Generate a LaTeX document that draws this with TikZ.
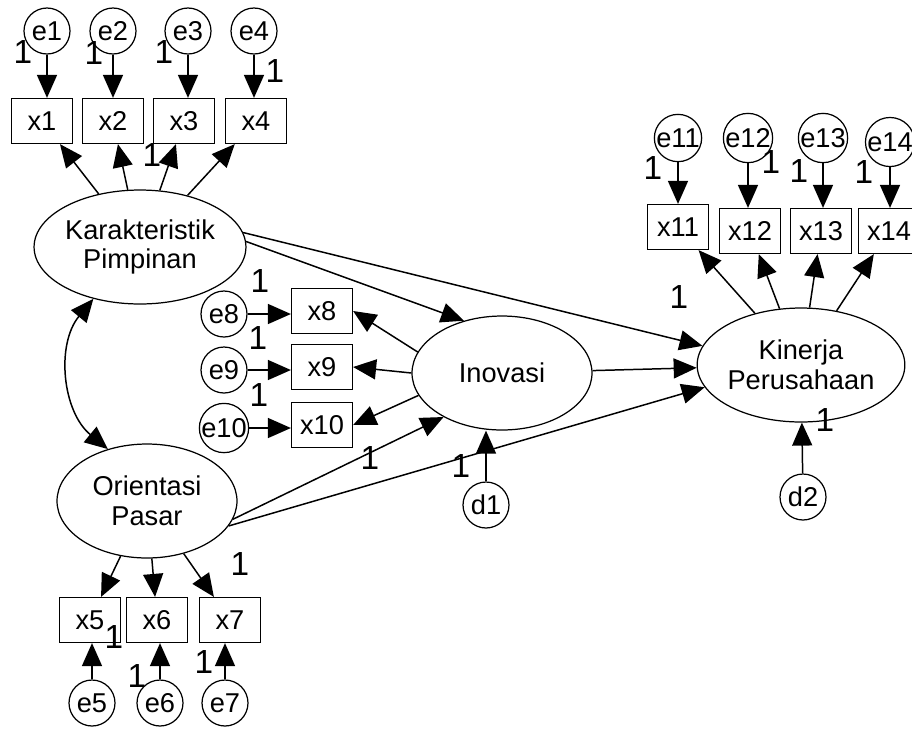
\documentclass[tikz,border=0pt]{standalone}
\usepackage{fontspec}
\setmainfont{Liberation Sans}
\usetikzlibrary{arrows.meta, shapes.geometric}

\begin{document}
\begin{tikzpicture}[
  x=0.02cm, y=-0.02cm,
  line width=0.85pt,
  >={Triangle[length=0.46cm, width=0.4cm]},
  every node/.style={font=\fontsize{15.5}{17}\selectfont},
  lat/.style={draw, ellipse, minimum width=3.6cm, minimum height=2.28cm,
    inner sep=0pt, align=center, line width=0.7pt},
  obs/.style={draw, rectangle, minimum width=1.22cm, minimum height=0.9cm,
    inner sep=0pt, line width=0.7pt},
  err/.style={draw, circle, minimum size=0.92cm, inner sep=0pt, line width=0.7pt},
  one/.style={font=\fontsize{19}{19}\selectfont, inner sep=0pt},
  ]
  \useasboundingbox (0,0) rectangle (912,728);

  % 潜变量
  \node[lat] (kp) at (140,247) {Karakteristik\\Pimpinan};
  \node[lat] (op) at (147,501) {Orientasi\\Pasar};
  \node[lat] (ino) at (502,373) {Inovasi};
  \node[lat] (kin) at (801,365) {Kinerja\\Perusahaan};

  % Karakteristik Pimpinan 的指标
  \foreach \i/\ex/\xx in {1/47/42, 2/113/113, 3/188/184, 4/254/256}
  {
    \node[obs] (x\i) at (\xx,121) {x\i};
    \node[err] (e\i) at (\ex,31) {e\i};
    \draw[->] (e\i) -- (e\i |- x\i.north);
    \draw[->] (kp) -- (x\i);
  }

  % Kinerja Perusahaan 的指标
  \foreach \i/\ex/\ey/\xx/\xy in {11/678/138/678/227, 12/748/138/750/231,
    13/823/138/821/231, 14/890/142/889/231}
  {
    \node[obs] (x\i) at (\xx,\xy) {x\i};
    \node[err] (e\i) at (\ex,\ey) {e\i};
    \draw[->] (e\i) -- (e\i |- x\i.north);
    \draw[->] (kin) -- (x\i);
  }

  % Inovasi 的指标
  \foreach \i/\ey/\xy in {8/314/311, 9/370/367, 10/428/425}
  {
    \node[obs] (x\i) at (322,\xy) {x\i};
    \node[err] (e\i) at (224,\ey) {e\i};
    \draw[->] (e\i) -- (e\i -| x\i.west);
  }
  \draw[->] (ino.166) -- (x8.east);
  \draw[->] (ino.west) -- (x9.east);
  \draw[->] (ino.195) -- (x10.east);

  % Orientasi Pasar 的指标
  \foreach \i/\ex/\xx in {5/92/90, 6/160/157, 7/225/230}
  {
    \node[obs] (x\i) at (\xx,620) {x\i};
    \node[err] (e\i) at (\ex,703) {e\i};
    \draw[->] (e\i) -- (e\i |- x\i.south);
    \draw[->] (op) -- (x\i);
  }

  % 结构路径
  \draw[<->] (kp.228) to[bend right=45] (op.127);
  \draw[->] (kp.3) -- (ino.126);
  \draw[->] (kp.8) -- (kin.169);
  \draw[->] (op.-12) -- (ino.217);
  \draw[->] (op.-17) -- (kin.193);
  \draw[->] (ino) -- (kin);

  % 残差
  \node[err] (d1) at (486,505) {d1};
  \node[err] (d2) at (803,497) {d2};
  \draw[->] (d1) -- (d1 |- ino.south);
  \draw[->] (d2) -- (kin);

  % 路径系数 1
  \foreach \p [count=\n] in {(23,52), (94,53), (164,52), (275,71), (152,155),
    (260,281), (258,338), (259,395), (370,458), (461,466),
    (114,637), (137,676), (204,662), (240,564),
    (653,168), (771,162), (799,171), (864,172), (679,297), (825,420)}
    \node[one] (one\n) at \p {1};
\end{tikzpicture}
\end{document}
